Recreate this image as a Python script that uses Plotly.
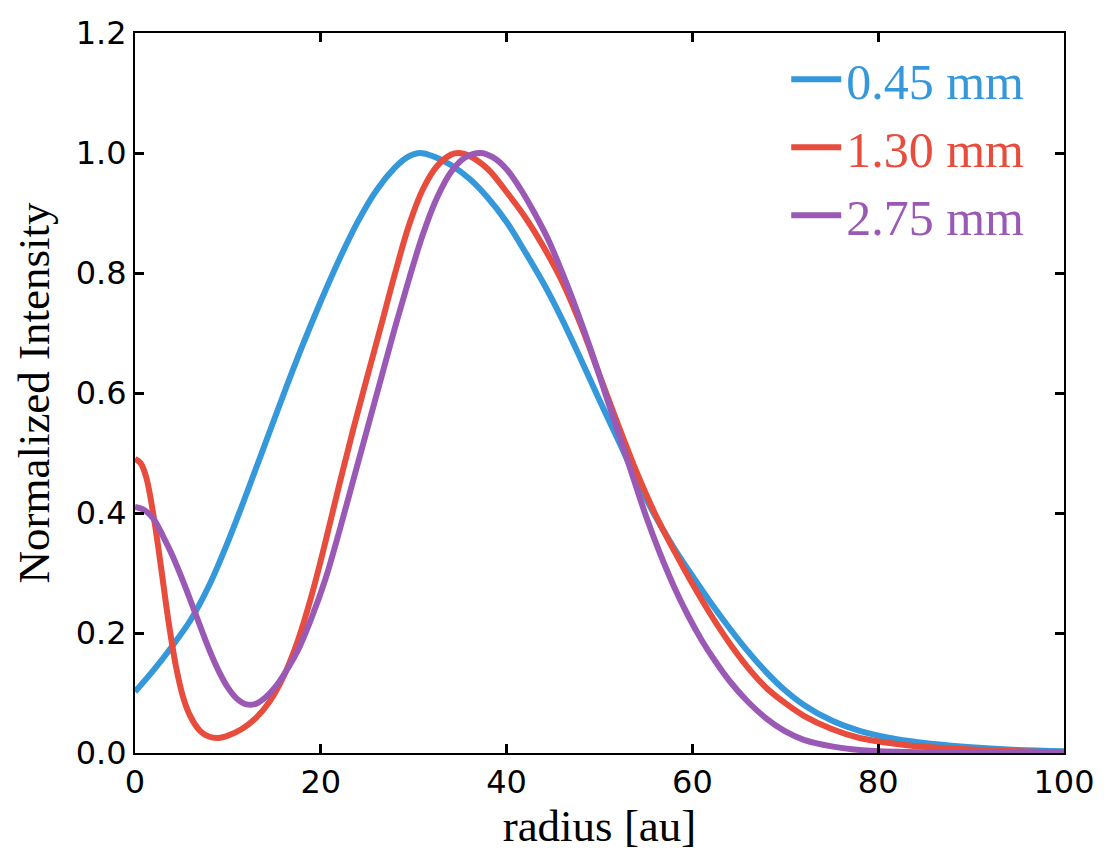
import plotly.graph_objects as go

# ---- data ----
labels = ["0.45 mm", "1.30 mm", "2.75 mm"]
colors = ["#3498db", "#e74c3c", "#9b59b6"]

x_045 = [0, 2, 4, 6, 8, 10, 12, 14, 16, 18, 20, 22, 24, 26, 28, 29.2, 30.6, 32.2,
         34, 36, 38, 40, 42, 44, 46, 48, 50, 52, 54, 56, 58, 60, 62, 64, 66, 68,
         70, 72, 75, 78, 82, 86, 90, 95, 100]
y_045 = [0.102, 0.138, 0.178, 0.222, 0.280, 0.352, 0.432, 0.515, 0.598, 0.678,
         0.753, 0.823, 0.886, 0.938, 0.976, 0.992, 1.0, 0.994, 0.980, 0.957,
         0.925, 0.885, 0.835, 0.782, 0.722, 0.656, 0.588, 0.522, 0.455, 0.395,
         0.342, 0.295, 0.250, 0.208, 0.169, 0.134, 0.104, 0.080, 0.054, 0.037,
         0.023, 0.015, 0.0095, 0.005, 0.003]

x_130 = [0, 0.6, 1.2, 2, 2.8, 3.6, 4.4, 5.2, 6, 7, 8, 9, 10, 11.5, 13, 14.5, 16,
         17.5, 19, 20.5, 22, 23.5, 25, 26.5, 28, 29.5, 31, 32.5, 34, 34.8, 36, 38,
         40, 42, 44, 46, 48, 50, 52, 54, 56, 58, 60, 62, 64, 66, 68, 70, 72, 75,
         78, 82, 86, 90, 95, 100]
y_130 = [0.490, 0.483, 0.460, 0.395, 0.310, 0.220, 0.145, 0.092, 0.060, 0.037,
         0.027, 0.025, 0.029, 0.040, 0.058, 0.086, 0.128, 0.186, 0.262, 0.352,
         0.448, 0.540, 0.627, 0.713, 0.800, 0.880, 0.940, 0.978, 0.997, 1.0,
         0.995, 0.973, 0.935, 0.893, 0.843, 0.785, 0.713, 0.630, 0.547, 0.468,
         0.398, 0.338, 0.282, 0.230, 0.183, 0.142, 0.108, 0.083, 0.062, 0.040,
         0.025, 0.015, 0.009, 0.006, 0.003, 0.001]

x_275 = [0, 1, 2, 3, 4, 5, 6, 7, 8, 9, 10, 11, 12, 13, 14, 15, 16, 17.5, 19, 20.5,
         22, 23.5, 25, 26.5, 28, 29.5, 31, 32.5, 34, 35.5, 37.2, 38.5, 40, 41.5,
         43, 44.5, 46, 47.5, 49, 50.5, 52, 53.5, 55, 56.5, 58, 59.5, 61, 62.5,
         64, 66, 68, 70, 72, 75, 78, 82, 90, 100]
y_275 = [0.410, 0.405, 0.390, 0.362, 0.330, 0.293, 0.253, 0.212, 0.172, 0.137,
         0.109, 0.090, 0.081, 0.082, 0.092, 0.108, 0.130, 0.170, 0.225, 0.290,
         0.370, 0.455, 0.540, 0.625, 0.710, 0.790, 0.865, 0.925, 0.968, 0.992,
         1.0, 0.993, 0.973, 0.940, 0.900, 0.855, 0.800, 0.740, 0.675, 0.605,
         0.535, 0.465, 0.395, 0.333, 0.278, 0.230, 0.188, 0.152, 0.120, 0.085,
         0.057, 0.036, 0.022, 0.011, 0.005, 0.002, 0.0005, 0.0]

x_ticks = [0, 20, 40, 60, 80, 100]
y_ticks = [0.0, 0.2, 0.4, 0.6, 0.8, 1.0, 1.2]

series = [(x_045, y_045), (x_130, y_130), (x_275, y_275)]

fig = go.Figure()
for (xs, ys), lab, col in zip(series, labels, colors):
    fig.add_trace(go.Scatter(
        x=xs, y=ys, mode="lines",
        name=f"<span style='color:{col}'>{lab}</span>",
        line=dict(color=col, width=6, shape="spline", smoothing=1.0),
    ))

axis_common = dict(
    showline=True, linecolor="black", linewidth=2, mirror="ticks",
    ticks="inside", ticklen=9, tickwidth=2.5, tickcolor="black",
    showgrid=False, zeroline=False,
    tickfont=dict(family="DejaVu Sans", size=32, color="black"),
)

fig.update_xaxes(range=[0, 100], tickvals=x_ticks,
                 ticktext=[str(v) for v in x_ticks],
                 title=dict(text="radius [au]",
                            font=dict(family="Liberation Serif", size=45, color="black"),
                            standoff=8),
                 **axis_common)
fig.update_yaxes(range=[0, 1.2], tickvals=y_ticks,
                 ticktext=[f"{v:.1f}" for v in y_ticks],
                 title=dict(text="Normalized Intensity",
                            font=dict(family="Liberation Serif", size=45, color="black"),
                            standoff=12),
                 **axis_common)

fig.update_layout(
    width=1116, height=865,
    margin=dict(l=135, r=52, t=33, b=112),
    paper_bgcolor="white", plot_bgcolor="white",
    showlegend=True,
    legend=dict(
        x=0.701, y=0.99, xanchor="left", yanchor="top",
        bgcolor="rgba(0,0,0,0)", borderwidth=0,
        font=dict(family="Liberation Serif", size=50, color="black"),
        tracegroupgap=0, itemwidth=50,
    ),
)

fig.write_html("out.html")
